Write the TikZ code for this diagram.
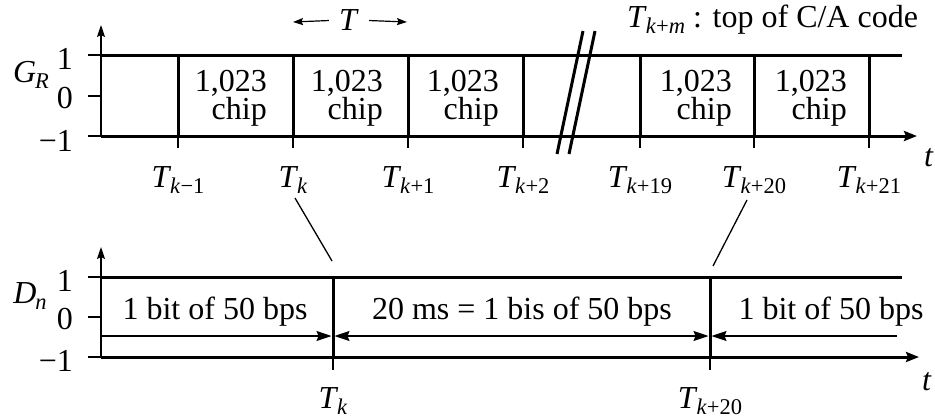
\documentclass[tikz,border=0pt]{standalone}
\usepackage{fontspec}
\setmainfont{Liberation Serif}
\usetikzlibrary{arrows.meta}
\newcommand{\lsub}[1]{\raisebox{-6pt}{\fontsize{22.5}{22.5}\selectfont #1}}
\newcommand{\Tk}[1]{\textit{T}\kern-1pt\lsub{\textit{k}#1}}
\begin{document}
\begin{tikzpicture}[x=1pt,y=-1pt,
  txt/.style={font=\fontsize{32}{28}\selectfont, inner sep=0pt},
  thickln/.style={line width=3pt},
  thinln/.style={line width=1.3pt},
  axarrow/.style={-{Stealth[length=12pt,width=8pt,inset=2pt]}},
  dimtip/.style={line width=1.2pt},
  chip/.style={txt, align=right, anchor=east}
]
\useasboundingbox (0,0) rectangle (935,418);

% ---------- top chart G_R ----------
\draw[thinln, axarrow] (101,136) -- (101,25);
\draw[thickln] (101,55) -- (902,55);
\draw[thickln, -{Stealth[length=13pt,width=10pt,inset=2pt]}] (101,136) -- (917,136);
\foreach \yy in {55,96,136} \draw[thinln] (88,\yy) -- (101,\yy);
\foreach \xx in {178,293,408,523,640,754,869} {
  \draw[thickln] (\xx,55) -- (\xx,136);
  \draw[thinln] (\xx,136) -- (\xx,148);
}
% break marks
\draw[thickln] (557,154) -- (583,31);
\draw[thickln] (569,154) -- (595,31);

\node[txt, anchor=center] (gr) at (31,75) {\textit{G}\kern-1pt\lsub{\textit{R}}};
\node[txt, anchor=east] (g1) at (73,59) {1};
\node[txt, anchor=east] (g0) at (73,98) {0};
\node[txt, anchor=east] (gm) at (73,141) {−1};

\foreach \xr/\nm in {267/c1,383/c2,499/c3,732/c4,847/c5}
  \node[chip] (\nm) at (\xr,98.5) {1,023\\chip};

\node[txt, anchor=base] (tkm1) at (178,187) {\Tk{−1}};
\node[txt, anchor=base] (tk) at (293,187) {\Tk{}};
\node[txt, anchor=base] (tk1) at (408,187) {\Tk{+1}};
\node[txt, anchor=base] (tk2) at (523,187) {\Tk{+2}};
\node[txt, anchor=base] (tk19) at (640,187) {\Tk{+19}};
\node[txt, anchor=base] (tk20) at (754,187) {\Tk{+20}};
\node[txt, anchor=base] (tk21) at (869,187) {\Tk{+21}};
\node[txt, anchor=base] (t1) at (929,166) {\textit{t}};

\node[txt, anchor=base] (T) at (349,30) {\textit{T}};
\coordinate (Tl) at (293,22);
\coordinate (Tr) at (407,22);
\draw[line width=1.2pt, -{Stealth[length=10pt,width=7pt,inset=1.5pt]}] (T.west) ++(-10pt,-1pt) -- (Tl);
\draw[line width=1.2pt, -{Stealth[length=10pt,width=7pt,inset=1.5pt]}] (T.east) ++(10pt,-1pt) -- (Tr);

\node[txt, anchor=base west] (top) at (627,27) {\textit{T}\kern-1pt\lsub{\textit{k}+\textit{m}} : top of C/A code};

% ---------- bottom chart D_n ----------
\draw[thinln, axarrow] (101,357) -- (101,247);
\draw[thickln] (101,277) -- (902,277);
\draw[thickln, -{Stealth[length=13pt,width=10pt,inset=2pt]}] (101,357) -- (919,357);
\foreach \yy in {277,317,357} \draw[thinln] (88,\yy) -- (101,\yy);
\foreach \xx in {333,710} {
  \draw[thickln] (\xx,277) -- (\xx,357);
  \draw[thinln] (\xx,357) -- (\xx,370);
}
\node[txt, anchor=center] (dn) at (30,296) {\textit{D}\kern-1pt\lsub{\textit{n}}};
\node[txt, anchor=east] (d1) at (73,281) {1};
\node[txt, anchor=east] (d0) at (73,319) {0};
\node[txt, anchor=east] (dm) at (73,361) {−1};

\node[txt, anchor=base] (b1) at (215,319) {1 bit of 50 bps};
\node[txt, anchor=base] (b2) at (522,319) {20 ms = 1 bis of 50 bps};
\node[txt, anchor=base] (b3) at (831,319) {1 bit of 50 bps};

\coordinate (a0) at (101,336);
\coordinate (a1l) at (331.5,336);
\coordinate (a1r) at (334.5,336);
\coordinate (a2l) at (708.5,336);
\coordinate (a2r) at (711.5,336);
\coordinate (a3) at (897,336);
\draw[dimtip, -{Stealth[length=15pt,width=10pt,inset=2pt]}] (a0) -- (a1l);
\draw[dimtip, {Stealth[length=15pt,width=10pt,inset=2pt]}-{Stealth[length=15pt,width=10pt,inset=2pt]}] (a1r) -- (a2l);
\draw[dimtip, -{Stealth[length=15pt,width=10pt,inset=2pt]}] (a3) -- (a2r);

\node[txt, anchor=base] (bk) at (333,408) {\Tk{}};
\node[txt, anchor=base] (bk20) at (710,408) {\Tk{+20}};
\node[txt, anchor=base] (t2) at (927,390) {\textit{t}};

% connectors
\coordinate (s1a) at (295,198);
\coordinate (s1b) at (332,261);
\coordinate (s2a) at (747,200);
\coordinate (s2b) at (713,266);
\draw[thinln] (s1a) -- (s1b);
\draw[thinln] (s2a) -- (s2b);
\end{tikzpicture}
\end{document}
